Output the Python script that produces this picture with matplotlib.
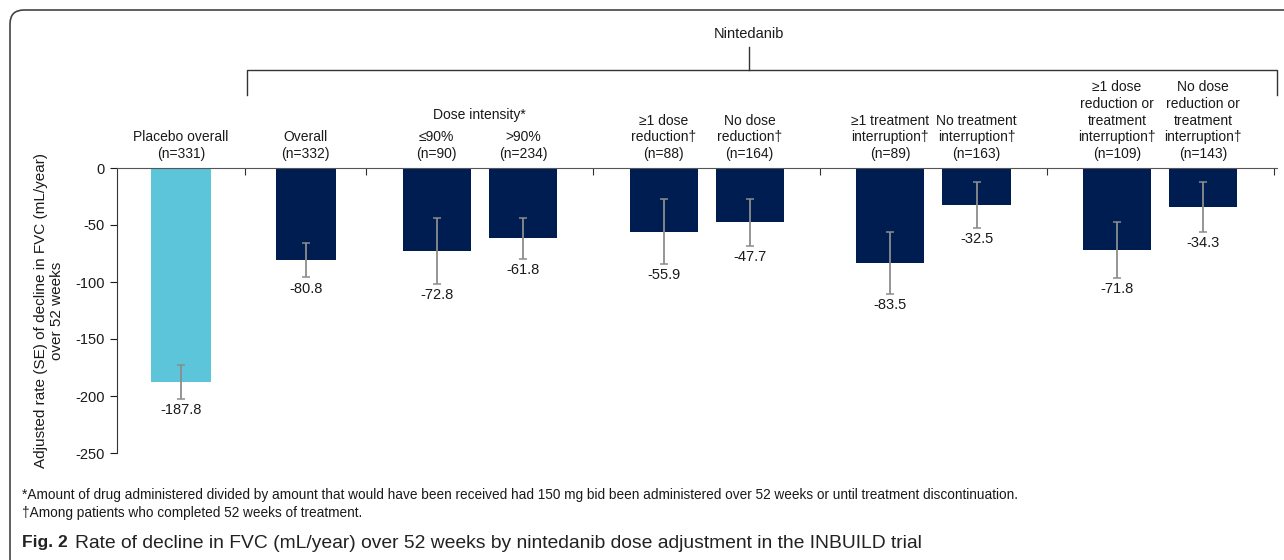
import matplotlib
matplotlib.use('Agg')
import matplotlib.pyplot as plt
import matplotlib.transforms as mtransforms
from matplotlib.lines import Line2D
from matplotlib.patches import FancyBboxPatch
import numpy as np

plt.rcParams['font.family'] = ['Liberation Sans', 'DejaVu Sans']
plt.rcParams['axes.unicode_minus'] = False

# data
labels = [
    'Placebo overall\n(n=331)',
    'Overall\n(n=332)',
    '\u226490%\n(n=90)',
    '>90%\n(n=234)',
    '\u22651 dose\nreduction\u2020\n(n=88)',
    'No dose\nreduction\u2020\n(n=164)',
    '\u22651 treatment\ninterruption\u2020\n(n=89)',
    'No treatment\ninterruption\u2020\n(n=163)',
    '\u22651 dose\nreduction or\ntreatment\ninterruption\u2020\n(n=109)',
    'No dose\nreduction or\ntreatment\ninterruption\u2020\n(n=143)',
]
rates = [-187.8, -80.8, -72.8, -61.8, -55.9, -47.7, -83.5, -32.5, -71.8, -34.3]
se = [14.9, 15.2, 28.8, 17.9, 28.4, 20.9, 27.0, 20.4, 24.7, 21.9]
group_title = 'Nintedanib'
subgroup_title = 'Dose intensity*'
footnotes = [
    '*Amount of drug administered divided by amount that would have been received had 150 mg bid been '
    'administered over 52 weeks or until treatment discontinuation.',
    '\u2020Among patients who completed 52 weeks of treatment.',
]

# layout: group widths in slot units, bars per group
group_widths = [1.13, 1.07, 2, 2, 2, 2]
group_sizes = [1, 1, 2, 2, 2, 2]

W, H = 1284, 560
fig = plt.figure(figsize=(W / 100, H / 100), dpi=100)
ax = fig.add_axes([117 / W, 1 - 453 / H, (1277 - 117) / W, (453 - 168) / H])

bounds = np.concatenate([[0], np.cumsum(group_widths)])
xpos, widths = [], []
for i, n in enumerate(group_sizes):
    c = (bounds[i] + bounds[i + 1]) / 2
    if n == 1:
        xpos.append(c)
        widths.append(0.53)
    else:
        xpos += [c - 0.38, c + 0.38]
        widths += [0.6, 0.6]

colors = ['#5cc5da'] + ['#001d51'] * (len(rates) - 1)
ax.bar(xpos, rates, width=widths, color=colors, zorder=2)
ax.errorbar(xpos, rates, yerr=se, fmt='none', ecolor='#8c8c8c',
            elinewidth=1.3, capsize=3, capthick=1.1, zorder=3)

for x, v, e in zip(xpos, rates, se):
    ax.annotate(f'{v:.1f}', (x, v - e), xytext=(0, -3), textcoords='offset points',
                ha='center', va='top', fontsize=10.5, color='#1a1a1a')

for x, lab in zip(xpos, labels):
    ax.annotate(lab, (x, 0), xytext=(0, 5), textcoords='offset points',
                ha='center', va='bottom', fontsize=10, color='#1a1a1a',
                multialignment='center', linespacing=1.25, annotation_clip=False)

# "Dose intensity*" above the first pair
ax.annotate(subgroup_title, ((bounds[2] + bounds[3]) / 2, 0), xytext=(0, 33),
            textcoords='offset points', ha='center', va='bottom', fontsize=10,
            color='#1a1a1a', annotation_clip=False)

ax.set_xlim(0, bounds[-1] + 0.03)
ax.set_ylim(-250, 0)
ax.set_yticks(np.arange(-250, 1, 50))
ax.tick_params(axis='y', direction='out', length=5, labelsize=10.5, colors='#1a1a1a', pad=4)
ax.xaxis.tick_top()
ax.set_xticks(bounds[1:])
ax.tick_params(axis='x', direction='in', length=5, labeltop=False, color='#333333')
for s in ['right', 'bottom']:
    ax.spines[s].set_visible(False)
ax.spines['left'].set_color('#333333')
ax.spines['top'].set_color('#555555')
ax.set_ylabel('Adjusted rate (SE) of decline in FVC (mL/year)\nover 52 weeks',
              fontsize=11, color='#1a1a1a', labelpad=8, linespacing=1.15)

# Nintedanib bracket
bt = mtransforms.blended_transform_factory(ax.transData, fig.transFigure)
left, right = bounds[1] + 0.02, bounds[-1] + 0.03
mid = 5.57
y_top, y_end, y_stem = 1 - 70 / H, 1 - 95 / H, 1 - 47 / H
fig.add_artist(Line2D([left, left, right, right], [y_end, y_top, y_top, y_end],
                      transform=bt, color='#333333', lw=1))
fig.add_artist(Line2D([mid, mid], [y_top, y_stem], transform=bt, color='#333333', lw=1))
fig.text(mid, 1 - 34 / H, group_title, transform=bt, ha='center', va='center',
         fontsize=10.5, color='#1a1a1a')

# footnotes and caption
fig.text(22 / W, 1 - 495 / H, footnotes[0], fontsize=9.85, va='center', color='#1a1a1a')
fig.text(22 / W, 1 - 513 / H, footnotes[1], fontsize=9.85, va='center', color='#1a1a1a')
fig.text(22 / W, 1 - 543 / H, 'Fig. 2', fontsize=12.5, fontweight='bold',
         va='center', color='#222222')
fig.text(75 / W, 1 - 543 / H,
         'Rate of decline in FVC (mL/year) over 52 weeks by nintedanib dose adjustment in the INBUILD trial',
         fontsize=13.85, va='center', color='#222222')

# rounded frame around the figure
frame = FancyBboxPatch((10, -30), W + 40, H - 10 + 30,
                       boxstyle='round,pad=0,rounding_size=14',
                       transform=mtransforms.IdentityTransform(),
                       fill=False, ec='#444444', lw=1.2)
fig.add_artist(frame)

fig.savefig('out.png', dpi=100)
